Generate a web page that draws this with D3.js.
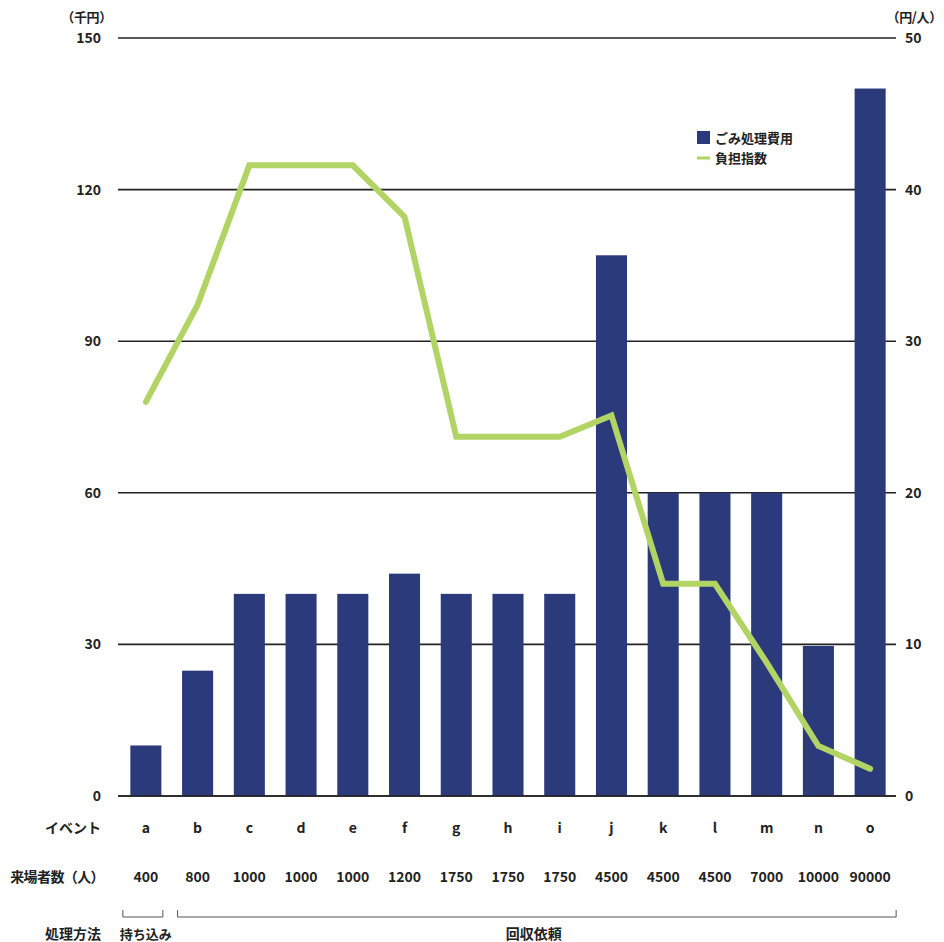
<!DOCTYPE html>
<html><head><meta charset="utf-8">
<script src="https://cdn.jsdelivr.net/npm/d3@7"></script>
<style>body{margin:0;background:#fff}text{font-family:"Noto Sans CJK JP","Noto Sans",sans-serif;fill:#222}</style>
</head><body><svg id="c" width="944" height="942"></svg>
<script>
const events = ["a","b","c","d","e","f","g","h","i","j","k","l","m","n","o"];
const visitors = ["400","800","1000","1000","1000","1200","1750","1750","1750","4500","4500","4500","7000","10000","90000"];
const costs = [10,24.8,40,40,40,44,40,40,40,107,60,60,60,29.7,140];
const burden = [26,32.4,41.6,41.6,41.6,38.2,23.7,23.7,23.7,25.1,14,14,8.8,3.3,1.8];
const leftTicks = [0,30,60,90,120,150];
const rightTicks = [0,10,20,30,40,50];
const methods = [{label:"持ち込み",from:0,to:0},{label:"回収依頼",from:1,to:14}];

const svg = d3.select("#c");
const L=120,R=896,T=38,B=796;
const x = d3.scaleBand().domain(events).range([L,R]).paddingInner(0.4).paddingOuter(0.2);
const yL = d3.scaleLinear().domain([0,150]).range([B,T]);
const yR = d3.scaleLinear().domain([0,50]).range([B,T]);
const fs = 14, fw = 600;

// grid
svg.append("g").selectAll("line").data(leftTicks).join("line")
  .attr("x1",118).attr("x2",R).attr("y1",d=>yL(d)).attr("y2",d=>yL(d))
  .attr("stroke","#222").attr("stroke-width",1.6);

// axis labels
svg.append("g").selectAll("text").data(leftTicks).join("text")
  .attr("x",101).attr("y",d=>yL(d)).attr("dy","0.36em").attr("text-anchor","end")
  .attr("font-size",fs).attr("font-weight",fw).text(d=>d);
svg.append("g").selectAll("text").data(rightTicks).join("text")
  .attr("x",905).attr("y",d=>yR(d)).attr("dy","0.36em").attr("text-anchor","start")
  .attr("font-size",fs).attr("font-weight",fw).text(d=>d);
svg.append("text").attr("x",112).attr("y",17).attr("dy","0.36em").attr("text-anchor","end")
  .attr("font-size",13).attr("font-weight",fw).attr("letter-spacing",-0.3).text("（千円）");
svg.append("text").attr("x",942).attr("y",17).attr("dy","0.36em").attr("text-anchor","end")
  .attr("font-size",13).attr("font-weight",fw).attr("letter-spacing",-0.3).text("（円/人）");

// bars
svg.append("g").selectAll("rect").data(costs).join("rect")
  .attr("x",(d,i)=>x(events[i])).attr("width",x.bandwidth())
  .attr("y",d=>yL(d)).attr("height",d=>B-yL(d)).attr("fill","#2b3a7a");

svg.append("line").attr("x1",118).attr("x2",R).attr("y1",B).attr("y2",B).attr("stroke","#222").attr("stroke-width",1.6);

// line
const line = d3.line().x((d,i)=>x(events[i])+x.bandwidth()/2).y(d=>yR(d));
svg.append("path").datum(burden).attr("d",line).attr("fill","none")
  .attr("stroke","#b1d465").attr("stroke-width",6).attr("stroke-linejoin","miter").attr("stroke-linecap","round");

// legend
svg.append("rect").attr("x",697).attr("y",131).attr("width",13).attr("height",13).attr("fill","#2b3a7a");
svg.append("text").attr("x",715).attr("y",138).attr("dy","0.36em").attr("font-size",13).attr("font-weight",fw).text("ごみ処理費用");
svg.append("line").attr("x1",697).attr("x2",710).attr("y1",158).attr("y2",158).attr("stroke","#b1d465").attr("stroke-width",3);
svg.append("text").attr("x",715).attr("y",158).attr("dy","0.36em").attr("font-size",13).attr("font-weight",fw).text("負担指数");

// rows
const rowY1=828,rowY2=877,rowY3=934;
svg.append("text").attr("x",101).attr("y",rowY1).attr("dy","0.36em").attr("text-anchor","end").attr("font-size",fs).attr("font-weight",fw).text("イベント");
svg.append("text").attr("x",104).attr("y",rowY2).attr("dy","0.36em").attr("text-anchor","end").attr("font-size",fs).attr("font-weight",fw).attr("letter-spacing",-0.6).text("来場者数（人）");
svg.append("text").attr("x",101).attr("y",rowY3).attr("dy","0.36em").attr("text-anchor","end").attr("font-size",fs).attr("font-weight",fw).text("処理方法");
svg.append("g").selectAll("text").data(events).join("text")
  .attr("x",d=>x(d)+x.bandwidth()/2).attr("y",rowY1).attr("dy","0.36em").attr("text-anchor","middle")
  .attr("font-size",fs).attr("font-weight",fw).text(d=>d);
svg.append("g").selectAll("text").data(visitors).join("text")
  .attr("x",(d,i)=>x(events[i])+x.bandwidth()/2).attr("y",rowY2).attr("dy","0.36em").attr("text-anchor","middle")
  .attr("font-size",fs).attr("font-weight",fw).text(d=>d);

// brackets
methods.forEach((m,k)=>{
  const cx0 = x(events[m.from])+x.bandwidth()/2, cx1 = x(events[m.to])+x.bandwidth()/2;
  const x0 = k===0 ? cx0-23 : cx0-20, x1 = k===0 ? cx1+17 : cx1+26;
  svg.append("path").attr("d",`M${x0},910V917H${x1}V910`).attr("fill","none").attr("stroke","#555").attr("stroke-width",1);
  svg.append("text").attr("x",(cx0+cx1)/2).attr("y",rowY3).attr("dy","0.36em").attr("text-anchor","middle")
    .attr("font-size",k===0?13:14).attr("font-weight",fw).text(m.label);
});
</script></body></html>
